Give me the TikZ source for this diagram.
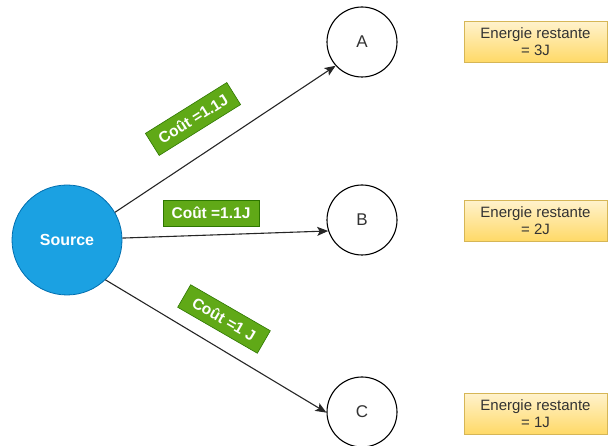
\documentclass[tikz,border=0pt]{standalone}
\usepackage{fontspec}
\setmainfont{Liberation Sans}
\usetikzlibrary{arrows.meta}
\definecolor{srcfill}{HTML}{1BA1E2}
\definecolor{srcline}{HTML}{006EAF}
\definecolor{costfill}{HTML}{60A917}
\definecolor{costline}{HTML}{2D7600}
\definecolor{energytop}{HTML}{FFF2CC}
\definecolor{energybot}{HTML}{FFD966}
\definecolor{energyline}{HTML}{D6B656}
\definecolor{txt}{HTML}{333333}
\tikzset{
  source/.style={circle, fill=srcfill, draw=srcline, line width=0.8pt,
    minimum size=110pt, inner sep=0pt, text=white,
    font=\fontsize{16}{18}\selectfont\bfseries},
  target/.style={circle, draw=black, line width=1.1pt, fill=white,
    minimum size=70pt, inner sep=0pt, text=txt,
    font=\fontsize{17}{19}\selectfont},
  cost/.style={rectangle, fill=costfill, draw=costline, line width=0.6pt,
    minimum width=96pt, minimum height=26pt, inner sep=2pt, text=white,
    font=\fontsize{15.5}{17}\selectfont\bfseries},
  energy/.style={rectangle, top color=energytop, bottom color=energybot,
    draw=energyline, line width=0.7pt, minimum width=143pt,
    minimum height=41pt, inner sep=1pt, align=center, text=txt,
    font=\fontsize{15}{17}\selectfont},
  link/.style={draw=black!85, line width=1.1pt,
    -{Stealth[length=11pt,width=9pt,inset=2.5pt]}},
}
\begin{document}
\begin{tikzpicture}[x=1pt, y=-1pt]
  \useasboundingbox (0,0) rectangle (608,446);

  % nodes
  \node[source] (src) at (67,240) {Source};
  \node[target] (A) at (362,42) {A};
  \node[target] (B) at (362,220) {B};
  \node[target] (C) at (362,412) {C};

  % remaining energy
  \node[energy] (eA) at (535.5,42) {Energie restante\\= 3J};
  \node[energy] (eB) at (535.5,221) {Energie restante\\= 2J};
  \node[energy] (eC) at (535.5,414) {Energie restante\\= 1J};

  % links
  \draw[link] (src.30) -- (A.222);
  \draw[link] (src.2) -- (B.198);
  \draw[link] (src.314) -- (C.181);

  % costs
  \node[cost, rotate=32] (cA) at (193,119) {Coût =1.1J};
  \node[cost] (cB) at (211,213) {Coût =1.1J};
  \node[cost, rotate=-30, minimum width=92pt] (cC) at (224,319) {Coût =1 J};
\end{tikzpicture}
\end{document}
